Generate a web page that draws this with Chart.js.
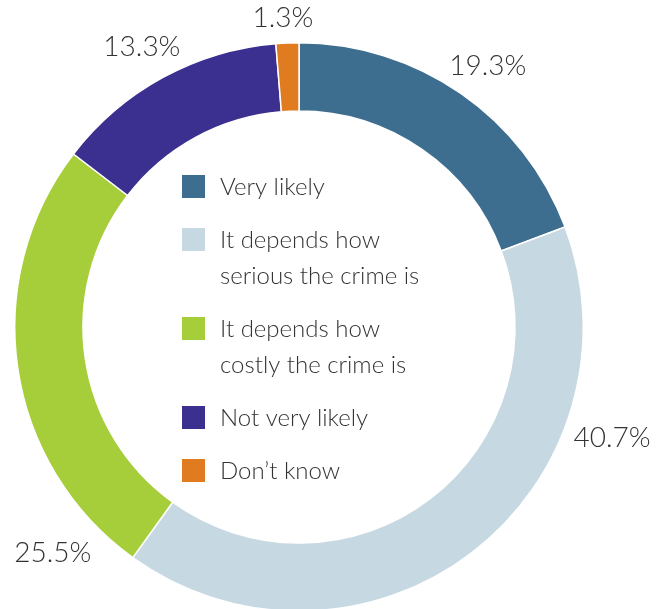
<!DOCTYPE html>
<html>
<head>
<meta charset="utf-8">
<script src="https://cdn.jsdelivr.net/npm/chart.js@4"></script>
<style>
  html, body { margin: 0; padding: 0; background: #fff; overflow: hidden; }
  #wrap { width: 667px; height: 609px; overflow: hidden; }
</style>
</head>
<body>
<div id="wrap"><canvas id="myChart" width="667" height="615"></canvas></div>
<script>
// data
const categories = [
    'Very likely',
    ['It depends how', 'serious the crime is'],
    ['It depends how', 'costly the crime is'],
    'Not very likely',
    "Don\u2019t know"
];
const shares = [19.3, 40.7, 25.5, 13.3, 1.3];
const shareLabels = ['19.3%', '40.7%', '25.5%', '13.3%', '1.3%'];
const colours = ['#3d6e8f', '#c6d8e1', '#a6cd3a', '#3b3090', '#e07b20'];

const FONT = 'Lato, "Open Sans", sans-serif';
const INK = '#333333';

// percentage labels outside the ring (angle from 12 o'clock, clockwise, and radius)
const pctLabels = {
    id: 'pctLabels',
    afterDraw(chart, args, opts) {
        const ctx = chart.ctx;
        const arc = chart.getDatasetMeta(0).data[0];
        ctx.save();
        ctx.fillStyle = INK;
        ctx.font = '300 28px ' + FONT;
        ctx.textAlign = 'center';
        ctx.textBaseline = 'middle';
        shareLabels.forEach((t, i) => {
            const a = opts.anchors[i][0] * Math.PI / 180;
            const r = opts.anchors[i][1];
            ctx.fillText(t, arc.x + r * Math.sin(a), arc.y - r * Math.cos(a));
        });
        ctx.restore();
    }
};

// legend drawn inside the hole
const innerLegend = {
    id: 'innerLegend',
    afterDraw(chart, args, opts) {
        const ctx = chart.ctx;
        let y = opts.top;
        ctx.save();
        ctx.font = '300 24px ' + FONT;
        ctx.textBaseline = 'middle';
        ctx.textAlign = 'left';
        chart.data.labels.forEach((lab, i) => {
            const lines = Array.isArray(lab) ? lab : [lab];
            ctx.fillStyle = colours[i];
            ctx.fillRect(opts.boxX, y, opts.box, opts.box);
            ctx.fillStyle = INK;
            lines.forEach((ln, k) => {
                ctx.fillText(ln, opts.textX, y + opts.box / 2 + 1 + k * opts.lineHeight);
            });
            y += lines.length * opts.lineHeight + opts.gap;
        });
        ctx.restore();
    }
};

const ctx = document.getElementById('myChart').getContext('2d');
new Chart(ctx, {
    type: 'doughnut',
    data: {
        labels: categories,
        datasets: [{
            data: shares,
            backgroundColor: colours,
            borderColor: '#ffffff',
            borderWidth: 1.5
        }]
    },
    options: {
        responsive: false,
        animation: false,
        cutout: '76%',
        layout: { padding: { left: 14, right: 83, top: 41, bottom: 2 } },
        plugins: {
            legend: { display: false },
            tooltip: { enabled: false },
            pctLabels: { anchors: [[35.9, 322], [109.5, 332], [227.5, 334], [330.7, 321], [357, 309]] },
            innerLegend: { top: 175, boxX: 182, box: 23, textX: 220, lineHeight: 36, gap: 17 }
        }
    },
    plugins: [pctLabels, innerLegend]
});
</script>
</body>
</html>
